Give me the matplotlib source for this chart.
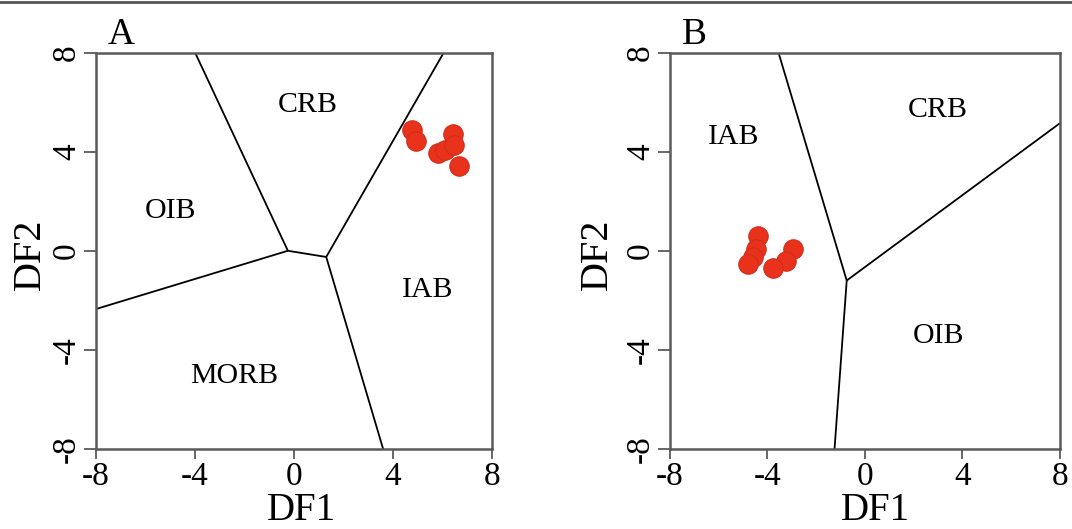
import matplotlib

matplotlib.use("Agg")
import matplotlib.pyplot as plt
from matplotlib.lines import Line2D

plt.rcParams["font.family"] = ["Liberation Serif", "DejaVu Serif"]

# --- data ---
ticks = [-8, -4, 0, 4, 8]

# panel A: tectonic discrimination boundaries (DF1, DF2 vertices)
a_bounds = [
    [(-4.0, 8.0), (-0.25, 0.0)],
    [(-8.0, -2.35), (-0.25, 0.0)],
    [(-0.25, 0.0), (1.3, -0.25)],
    [(1.3, -0.25), (6.05, 8.0)],
    [(1.3, -0.25), (3.6, -8.0)],
]
a_fields = ["CRB", "OIB", "IAB", "MORB"]
a_field_x = [0.55, -5.0, 5.4, -2.4]
a_field_y = [5.9, 1.6, -1.6, -5.05]
a_df1 = [4.77, 4.93, 5.83, 6.1, 6.44, 6.46, 6.68]
a_df2 = [4.87, 4.43, 3.96, 4.05, 4.71, 4.27, 3.42]

# panel B
b_bounds = [
    [(-3.55, 8.0), (-0.75, -1.2)],
    [(-0.75, -1.2), (8.0, 5.15)],
    [(-0.75, -1.2), (-1.25, -8.0)],
]
b_fields = ["CRB", "IAB", "OIB"]
b_field_x = [3.0, -5.4, 3.0]
b_field_y = [5.7, 4.6, -3.45]
b_df1 = [-4.37, -4.47, -4.6, -4.82, -2.95, -3.24, -3.77]
b_df2 = [0.59, 0.07, -0.25, -0.54, 0.07, -0.41, -0.70]

DOT = "#e8321c"
SPINE = "#5a5a5a"


def draw_panel(ax, letter, bounds, fields, fx, fy, px, py, ylab_x, xlab_x):
    for seg in bounds:
        xs = [p[0] for p in seg]
        ys = [p[1] for p in seg]
        ax.plot(xs, ys, color="black", lw=1.3, solid_capstyle="butt")
    for name, x, y in zip(fields, fx, fy):
        ax.text(x, y, name, ha="center", va="center", fontsize=21.5)
    ax.plot(px, py, "o", ms=14, color=DOT, mec="#d42c18", mew=0.8)

    ax.set_xlim(-8, 8)
    ax.set_ylim(-8, 8)
    ax.set_xticks(ticks)
    ax.set_yticks(ticks)
    ax.set_xticklabels([str(t) for t in ticks], fontsize=24)
    ax.set_yticklabels([str(t) for t in ticks], fontsize=24, rotation=90, va="center")
    ax.tick_params(axis="x", direction="out", length=7, width=1.3, color=SPINE, pad=2)
    ax.tick_params(axis="y", direction="out", length=9, width=1.3, color=SPINE, pad=1)
    for sp in ax.spines.values():
        sp.set_color(SPINE)
        sp.set_linewidth(1.8)

    ax.set_xlabel("DF1", fontsize=28)
    ax.set_ylabel("DF2", fontsize=29)
    ax.xaxis.set_label_coords(xlab_x, -0.108)
    ax.yaxis.set_label_coords(ylab_x, 0.49)
    ax.text(0.03, 1.022, letter, transform=ax.transAxes, fontsize=27,
            ha="left", va="baseline")


fig = plt.figure(figsize=(10.72, 5.29), dpi=100)
ax_a = fig.add_axes([0.0896, 0.1512, 0.3694, 0.7495])
ax_b = fig.add_axes([0.625, 0.1512, 0.3638, 0.7495])

draw_panel(ax_a, "A", a_bounds, a_fields, a_field_x, a_field_y, a_df1, a_df2, -0.12, 0.518)
draw_panel(ax_b, "B", b_bounds, b_fields, b_field_x, b_field_y, b_df1, b_df2, -0.14, 0.526)

# thin rule along the top edge of the page
fig.add_artist(Line2D([0, 1], [0.997, 0.997], transform=fig.transFigure,
                      color="#555555", lw=2))

fig.savefig("out.png", dpi=100)
